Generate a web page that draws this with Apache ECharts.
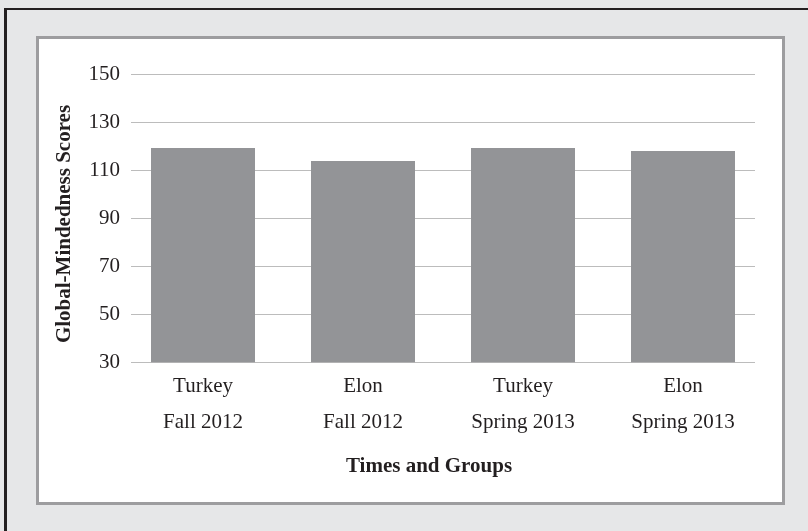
<!DOCTYPE html>
<html>
<head>
<meta charset="utf-8">
<script src="https://cdn.jsdelivr.net/npm/echarts@6/dist/echarts.min.js"></script>
<style>
  html, body { margin: 0; padding: 0; width: 808px; height: 531px; overflow: hidden; background: #e6e7e8; }
  .frame { position: absolute; left: 4px; top: 8px; width: 900px; height: 700px;
           border-left: 3px solid #231f20; border-top: 2px solid #231f20; }
  .panel { position: absolute; left: 36px; top: 36px; width: 743px; height: 463px;
           background: #fff; border: 3px solid #9d9d9f; }
  #chart { position: absolute; left: 0; top: 0; width: 808px; height: 531px; }
</style>
</head>
<body>
<div class="frame"></div>
<div class="panel"></div>
<div id="chart"></div>
<script>
// chart data
const categories = ['Turkey\nFall 2012', 'Elon\nFall 2012', 'Turkey\nSpring 2013', 'Elon\nSpring 2013']
const scores = [119.4, 114.0, 119.4, 118.2]
const yMin = 30
const yMax = 150
const yStep = 20

const font = 'Liberation Serif'
const ink = '#231f20'

const chart = echarts.init(document.getElementById('chart'), null, { renderer: 'canvas' })
chart.setOption({
  backgroundColor: 'transparent',
  animation: false,
  grid: [
    // grid for the value axis + gridlines
    { left: 131, right: 53, top: 74.7, bottom: 168.7 },
    // grid for the bars / categories
    { left: 123, right: 45, top: 74.7, bottom: 168.7 }
  ],
  xAxis: [
    { gridIndex: 0, type: 'value', show: false },
    {
      gridIndex: 1,
      type: 'category',
      data: categories,
      axisLine: { show: false },
      axisTick: { show: false },
      axisLabel: {
        margin: 6,
        fontFamily: font,
        fontSize: 21,
        lineHeight: 36,
        color: ink
      },
      name: 'Times and Groups',
      nameLocation: 'middle',
      nameGap: 94,
      nameTextStyle: {
        fontFamily: font,
        fontSize: 21,
        fontWeight: 'bold',
        color: ink,
        padding: [0, 28, 0, 0]
      }
    }
  ],
  yAxis: [
    {
      gridIndex: 0,
      type: 'value',
      min: yMin,
      max: yMax,
      interval: yStep,
      axisLine: { show: false },
      axisTick: { show: false },
      splitLine: { lineStyle: { color: '#bcbcbc', width: 1 } },
      axisLabel: {
        margin: 11,
        fontFamily: font,
        fontSize: 21,
        color: ink
      },
      name: 'Global-Mindedness Scores',
      nameLocation: 'middle',
      nameRotate: 90,
      nameGap: 56,
      nameTextStyle: {
        fontFamily: font,
        fontSize: 21,
        fontWeight: 'bold',
        color: ink,
        padding: [0, 11, 0, 0]
      }
    },
    {
      gridIndex: 1,
      type: 'value',
      min: yMin,
      max: yMax,
      interval: yStep,
      show: false
    }
  ],
  series: [
    {
      type: 'bar',
      xAxisIndex: 1,
      yAxisIndex: 1,
      data: scores,
      barWidth: 104,
      itemStyle: { color: '#939497' }
    }
  ]
})
</script>
</body>
</html>
